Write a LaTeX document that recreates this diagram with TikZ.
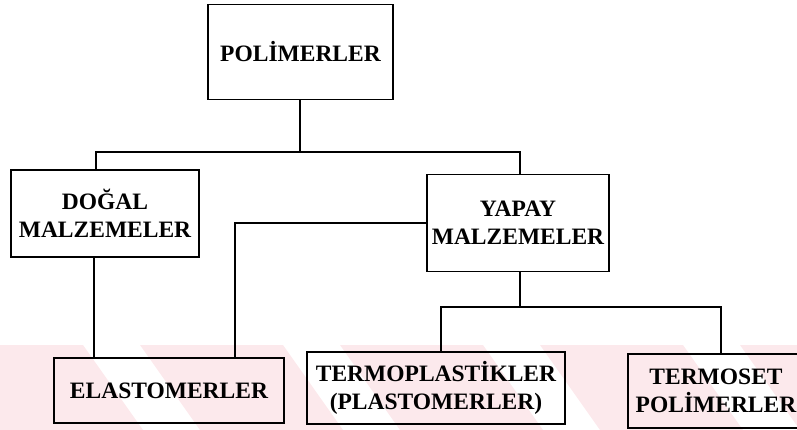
\documentclass[tikz,border=0pt]{standalone}
\usepackage{fontspec}
\setmainfont{Liberation Serif}
\definecolor{stripe}{RGB}{252,233,236}
\tikzset{
  box/.style={draw, line width=1.8pt, inner sep=0pt, align=center,
    font=\fontsize{23.5}{28}\selectfont\bfseries},
  link/.style={line width=1.8pt}
}
\begin{document}
\begin{tikzpicture}[x=1pt, y=-1pt]
\useasboundingbox (0,0) rectangle (797,430);
% pale diagonal bands along the bottom edge
\begin{scope}
  \clip (0,345) rectangle (797,430);
  \foreach \s in {-260,-60,140,340,540,740}
    \fill[stripe] (\s,345) -- ++(143,0) -- ++(60,85) -- ++(-143,0) -- cycle;
\end{scope}
% boxes
\node[box, minimum width=185pt, minimum height=95pt] (pol) at (300.5,52) {POLİMERLER};
\node[box, minimum width=188pt, minimum height=87pt] (dogal) at (105,213.5) {DOĞAL\\MALZEMELER};
\node[box, minimum width=182pt, minimum height=97pt] (yapay) at (518,223) {YAPAY\\MALZEMELER};
\node[box, minimum width=230pt, minimum height=65pt] (elast) at (169,390.5) {ELASTOMERLER};
\node[box, minimum width=258pt, minimum height=72pt] (termop) at (436,388) {TERMOPLASTİKLER\\(PLASTOMERLER)};
\node[box, minimum width=176pt, minimum height=74pt] (termos) at (716,391) {TERMOSET\\POLİMERLER};
% connector guides
\coordinate (j1) at (300,152);
\coordinate (j2) at (520,307);
\coordinate (c1) at (94,0);
\coordinate (c2) at (235,0);
\coordinate (c3) at (441,0);
\coordinate (c4) at (721,0);
\coordinate (c5) at (96,0);
% connectors
\draw[link] (pol.south -| j1) -- (j1);
\draw[link] (dogal.north -| c5) |- (j1) -| (yapay.north -| j2);
\draw[link] (dogal.south -| c1) -- (elast.north -| c1);
\draw[link] (yapay.west) -| (elast.north -| c2);
\draw[link] (yapay.south -| j2) -- (j2);
\draw[link] (termop.north -| c3) |- (j2) -| (termos.north -| c4);
\end{tikzpicture}
\end{document}
